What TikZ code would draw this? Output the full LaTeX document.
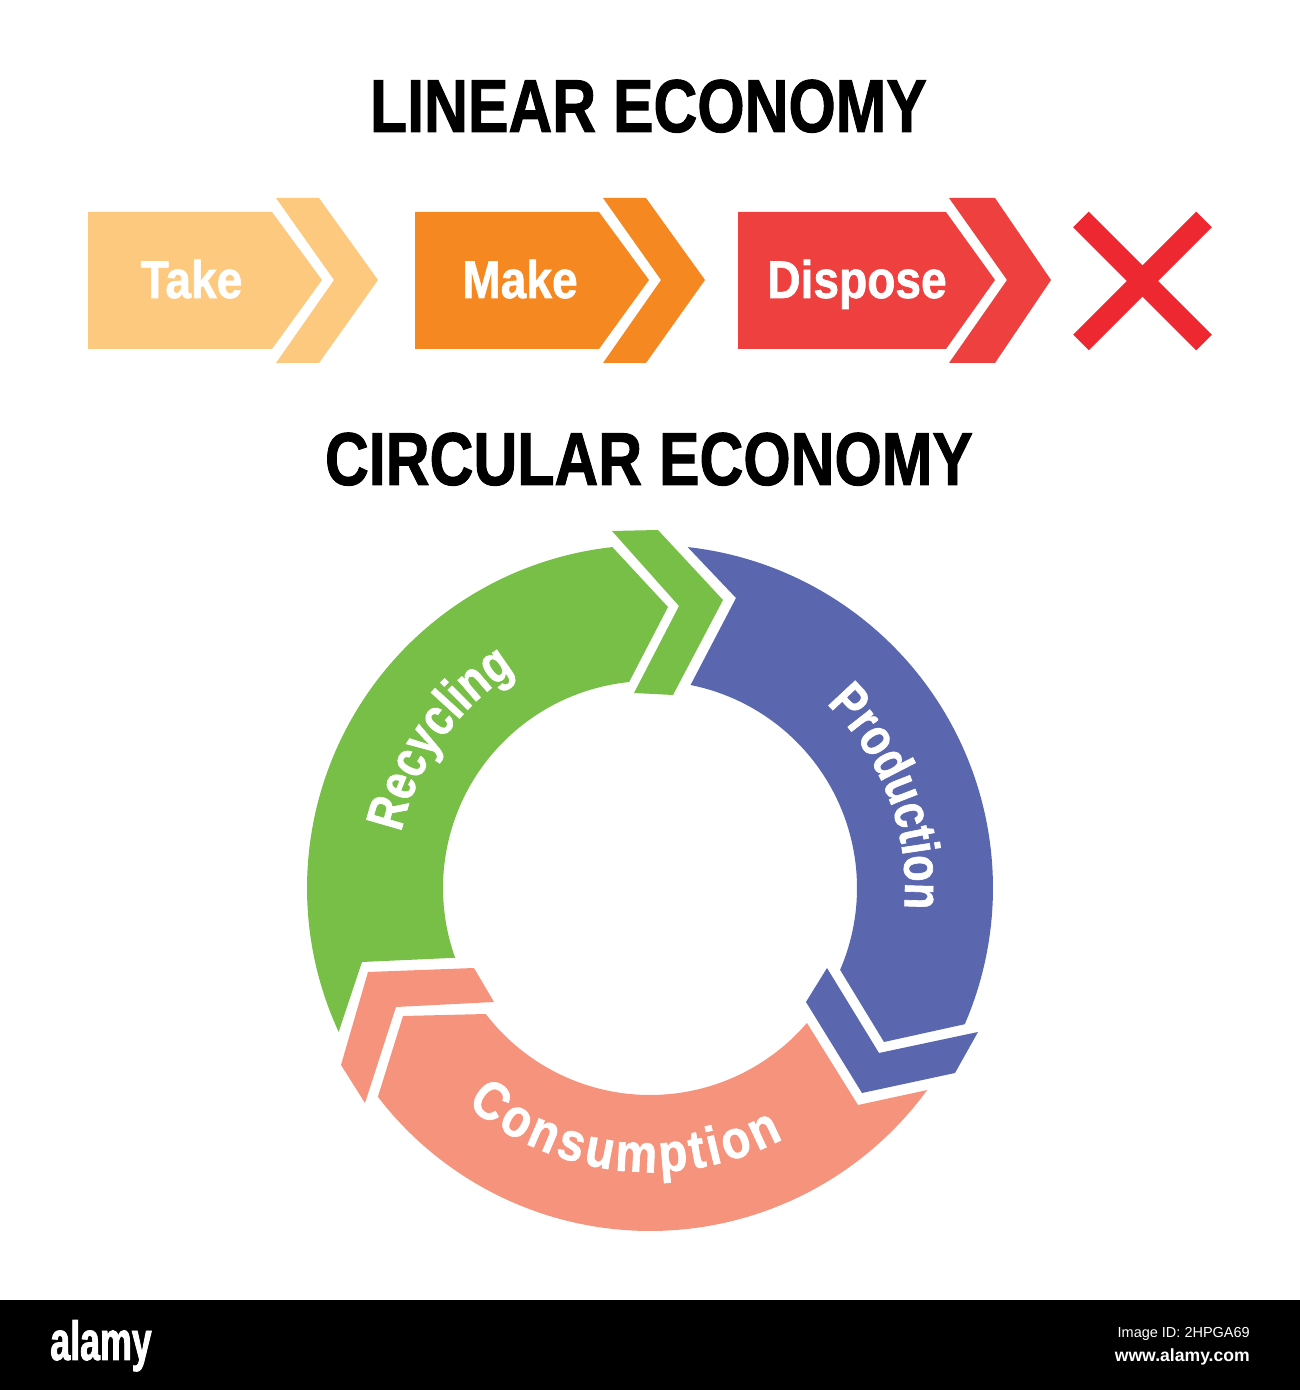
\documentclass[tikz,border=0pt]{standalone}
\usepackage{fontspec}
\setmainfont[FakeStretch=0.81,BoldFeatures={FakeBold=1.2}]{Liberation Sans}
\newfontfamily\plainfont{Liberation Sans}
\newfontfamily\labelfont[FakeStretch=0.87,BoldFeatures={FakeBold=1.2}]{Liberation Sans}
\newfontfamily\logofont[FakeStretch=0.65,BoldFeatures={FakeBold=1.5}]{Liberation Sans}
\usetikzlibrary{decorations.text}
\definecolor{takecol}{HTML}{FDC97F}
\definecolor{makecol}{HTML}{F68821}
\definecolor{disposecol}{HTML}{EF4040}
\definecolor{crosscol}{HTML}{ED2830}
\definecolor{greencol}{HTML}{78BF47}
\definecolor{bluecol}{HTML}{5A67AF}
\definecolor{salmoncol}{HTML}{F6937C}
\tikzset{
  title/.style={inner sep=0pt,anchor=base,font=\fontsize{75}{75}\selectfont\bfseries},
  label/.style={inner sep=0pt,anchor=base,text=white,font=\labelfont\fontsize{53}{53}\selectfont\bfseries},
  crossline/.style={crosscol,line width=22pt},
  ringtext/.style={decorate,decoration={text along path,text align=center,text={#1}}},
  ringfit/.style={decorate,decoration={text along path,text align=fit to path,text={#1}}}
}
\newcommand{\ringfont}{\fontsize{53}{53}\selectfont\bfseries\color{white}}
\newcommand{\ringwide}{\labelfont\fontsize{54}{54}\selectfont\bfseries\color{white}}
\begin{document}
\begin{tikzpicture}[x=1pt,y=1pt]
      \useasboundingbox (0,0) rectangle (1300,1390);
      \fill[black] (0,0) rectangle (1300,90);
      \node[title] (linear) at (648.5,1258) {LINEAR ECONOMY};
      \node[title] (circular) at (649,905) {CIRCULAR ECONOMY};
      \fill[takecol] (88,1178) -- (272,1178) -- (322,1110) -- (272,1041) -- (88,1041) -- cycle;
      \fill[takecol] (276,1192) -- (319,1192) -- (378,1110) -- (319,1027) -- (276,1027) -- (334,1110) -- cycle;
      \fill[makecol] (415,1178) -- (599,1178) -- (649,1110) -- (599,1041) -- (415,1041) -- cycle;
      \fill[makecol] (603,1192) -- (646,1192) -- (705,1110) -- (646,1027) -- (603,1027) -- (661,1110) -- cycle;
      \fill[disposecol] (738,1178) -- (946,1178) -- (995,1110) -- (946,1041) -- (738,1041) -- cycle;
      \fill[disposecol] (949,1192) -- (995,1192) -- (1051,1110) -- (995,1027) -- (949,1027) -- (1007,1110) -- cycle;
      \node[label] (take) at (191.5,1092) {Take};
      \node[label] (make) at (520,1092) {Make};
      \node[label] (dispose) at (857,1092) {Dispose};
      \coordinate (crossa) at (1081,1170.5);
      \coordinate (crossb) at (1204,1047.5);
      \coordinate (crossc) at (1204,1170.5);
      \coordinate (crossd) at (1081,1047.5);
      \draw[crossline] (crossa) -- (crossb);
      \draw[crossline] (crossc) -- (crossd);
      \begin{scope}[shift={(650,502)}]
        \fill[greencol] (204.8:343) arc[start angle=204.8,end angle=96.3,radius=343]
          -- (18,281) -- (95.8:207) arc[start angle=95.8,end angle=199.7,radius=207]
          -- (-288,-74) -- cycle;
        \fill[greencol] (-38,357) -- (8,358) -- (73,288) -- (23,193) -- (-16,195) -- (29,282) -- cycle;
        \fill[bluecol] (83.7:343) arc[start angle=83.7,end angle=-23.4,radius=343]
          -- (234,-154) -- (-23.3:207) arc[start angle=-23.3,end angle=78.7,radius=207]
          -- (86,290) -- cycle;
        \fill[bluecol] (177,-80) -- (156,-114) -- (212,-205) -- (305,-185) -- (328,-144) -- (229,-165) -- cycle;
        \fill[salmoncol] (-36.1:343) arc[start angle=-36.1,end angle=-142.5,radius=343]
          -- (-247,-128) -- (-142.5:207) arc[start angle=-142.5,end angle=-40.7,radius=207]
          -- (208,-217) -- cycle;
        \fill[salmoncol] (-282,-84) -- (-176,-80) -- (-156,-114) -- (-254,-119) -- (-285,-215) -- (-309,-177) -- cycle;
        \path[ringtext={|\ringfont|Recycling}] (167.3:255) arc[start angle=167.3,end angle=122,radius=255];
        \path[ringtext={|\ringfont|Production}] (45:255) arc[start angle=45,end angle=-3.4,radius=255];
        \path[ringfit={|\ringwide|Consumption}] (229.8:284) arc[start angle=229.8,end angle=298,radius=284];
      \end{scope}
      \node[inner sep=0pt,anchor=base,text=white,font=\logofont\fontsize{55}{55}\selectfont\bfseries] (logo) at (101,30) {alamy};
      \node[inner sep=0pt,anchor=base east,text=white,font=\plainfont\fontsize{14.5}{15}\selectfont] (imageid) at (1250,52) {Image ID: 2HPGA69};
      \node[inner sep=0pt,anchor=base east,text=white,font=\plainfont\fontsize{17.6}{18}\selectfont\bfseries] (website) at (1250,28) {www.alamy.com};
    \end{tikzpicture}
\end{document}
